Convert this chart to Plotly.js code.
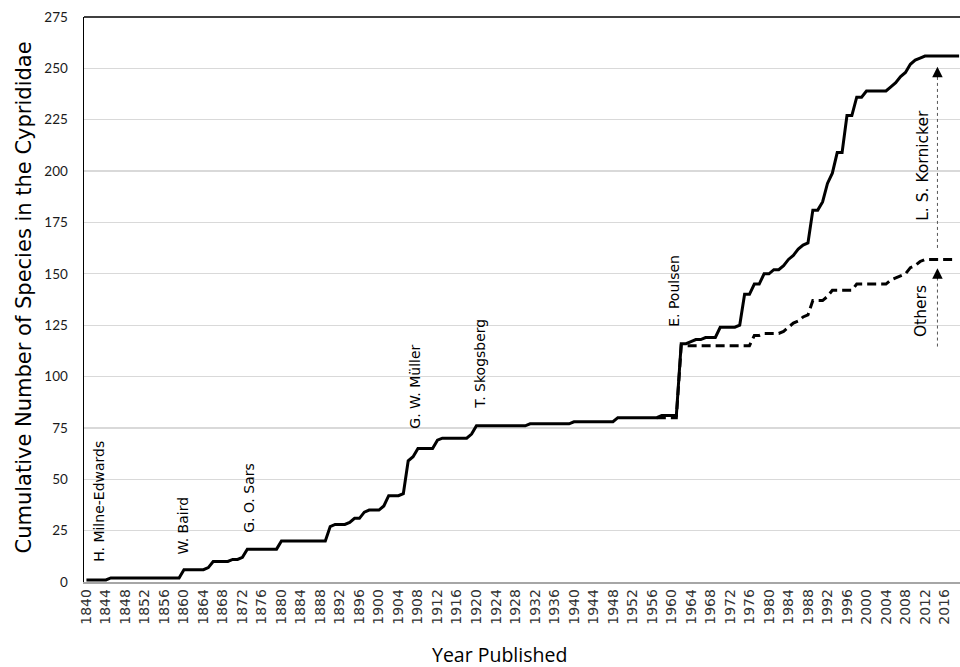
<!DOCTYPE html>
<html>
<head>
<meta charset="utf-8">
<script src="https://cdn.plot.ly/plotly-3.0.1.min.js"></script>
<style>
html,body{margin:0;padding:0;overflow:hidden;background:#fff;width:960px;height:667px}
#chart{width:963px;height:667px}
</style>
</head>
<body>
<div id="chart"></div>
<script>
// Categories: publication years 1840..2019
const firstYear = 1840;
const lastYear = 2019;
const years = [];
for (let y = firstYear; y <= lastYear; y++) years.push(y);

// Cumulative number of species (all authors), one value per year 1840..2019
const totalSpecies = [
  1,1,1,1,1,2,2,2,2,2,            // 1840s
  2,2,2,2,2,2,2,2,2,2,            // 1850s
  6,6,6,6,6,7,10,10,10,10,        // 1860s
  11,11,12,16,16,16,16,16,16,16,  // 1870s
  20,20,20,20,20,20,20,20,20,20,  // 1880s
  27,28,28,28,29,31,31,34,35,35,  // 1890s
  35,37,42,42,42,43,59,61,65,65,  // 1900s
  65,65,69,70,70,70,70,70,70,72,  // 1910s
  76,76,76,76,76,76,76,76,76,76,  // 1920s
  76,77,77,77,77,77,77,77,77,77,  // 1930s
  78,78,78,78,78,78,78,78,78,80,  // 1940s
  80,80,80,80,80,80,80,80,81,81,  // 1950s
  81,81,116,116,117,118,118,119,119,119,        // 1960s
  124,124,124,124,125,140,140,145,145,150,      // 1970s
  150,152,152,154,157,159,162,164,165,181,      // 1980s
  181,185,194,199,209,209,227,227,236,236,      // 1990s
  239,239,239,239,239,241,243,246,248,252,      // 2000s
  254,255,256,256,256,256,256,256,256,256       // 2010s
];

// Cumulative number of species described by authors other than L. S. Kornicker, 1957..2018
const othersFirstYear = 1957;
const othersSpecies = [
  80,80,80,                                     // 1957-1959
  80,80,115,115,115,115,115,115,115,115,        // 1960s
  115,115,115,115,115,115,115,120,120,121,      // 1970s
  121,121,121,122,124,126,127,129,130,137,      // 1980s
  137,137,139,142,142,142,142,142,145,145,      // 1990s
  145,145,145,145,145,147,148,149,150,153,      // 2000s
  154,156,157,157,157,157,157,157,157           // 2010-2018
];
const othersYears = years.slice(othersFirstYear - firstYear, othersFirstYear - firstYear + othersSpecies.length);

// Author labels
const authorNames = ['H. Milne-Edwards','W. Baird','G. O. Sars','G. W. Müller','T. Skogsberg','E. Poulsen'];
const authorX = [1842.6, 1859.9, 1873.2, 1907.4, 1920.7, 1960.6];
const authorY = [39.1, 27.7, 41.1, 95.1, 106.2, 141.9];

const yTicks = [0,25,50,75,100,125,150,175,200,225,250,275];

const traces = [
  {
    x: othersYears, y: othersSpecies, type: 'scatter', mode: 'lines',
    line: {color: '#000', width: 3, dash: '9px,5px'}, hoverinfo: 'skip'
  },
  {
    x: years, y: totalSpecies, type: 'scatter', mode: 'lines',
    line: {color: '#000', width: 3}, hoverinfo: 'skip'
  }
];

const labelFont = {family: 'DejaVu Sans', size: 14, color: '#000'};
const bigLabelFont = {family: 'DejaVu Sans', size: 15.5, color: '#000'};
const annotations = authorNames.map((t, i) => ({
  x: authorX[i], y: authorY[i], xref: 'x', yref: 'y', text: t, textangle: -90,
  showarrow: false, font: labelFont, xanchor: 'center', yanchor: 'middle'
}));

annotations.push(
  {x: 2011.6, y: 202.6, xref: 'x', yref: 'y', text: 'L. S. Kornicker', textangle: -90,
   showarrow: false, font: bigLabelFont, xanchor: 'center', yanchor: 'middle'},
  {x: 2011.2, y: 131.9, xref: 'x', yref: 'y', text: 'Others', textangle: -90,
   showarrow: false, font: bigLabelFont, xanchor: 'center', yanchor: 'middle'},
  {x: 2014.56, y: 250.8, xref: 'x', yref: 'y', text: '', showarrow: true,
   ax: 0, ay: 12, arrowhead: 2, arrowsize: 2.1, arrowwidth: 1, arrowcolor: '#000'},
  {x: 2014.56, y: 152.7, xref: 'x', yref: 'y', text: '', showarrow: true,
   ax: 0, ay: 12, arrowhead: 2, arrowsize: 2.1, arrowwidth: 1, arrowcolor: '#000'},
  {x: -0.0683, y: 0.5035, xref: 'paper', yref: 'paper', text: 'Cumulative Number of Species in the Cyprididae',
   textangle: -90, showarrow: false, xanchor: 'center', yanchor: 'middle',
   font: {family: 'DejaVu Sans', size: 21, color: '#000'}},
  {x: 0.4727, y: -0.1292, xref: 'paper', yref: 'paper', text: 'Year Published',
   showarrow: false, xanchor: 'center', yanchor: 'middle',
   font: {family: 'Open Sans', size: 19.5, color: '#000'}}
);

const shapes = [
  {type: 'line', xref: 'paper', yref: 'paper', x0: 0, x1: 1, y0: 1, y1: 1,
   line: {color: '#000', width: 1.5}},
  {type: 'line', xref: 'x', yref: 'y', x0: 2014.56, x1: 2014.56, y0: 162.6, y1: 246,
   line: {color: '#555', width: 1, dash: 'dot'}},
  {type: 'line', xref: 'x', yref: 'y', x0: 2014.56, x1: 2014.56, y0: 114.6, y1: 148,
   line: {color: '#555', width: 1, dash: 'dot'}}
];

const layout = {
  width: 963, height: 667,
  margin: {l: 84, r: 0, t: 17, b: 85, pad: 0},
  paper_bgcolor: '#fff', plot_bgcolor: '#fff',
  showlegend: false,
  xaxis: {
    range: [1839.5, 2019.8], tick0: 1840, dtick: 4, tickangle: -90,
    showgrid: false, zeroline: false, showline: true, linecolor: '#a6a6a6', linewidth: 1.5,
    ticks: '', tickfont: {family: 'DejaVu Sans', size: 14, color: '#333'}, fixedrange: true
  },
  yaxis: {
    range: [0, 275], tickmode: 'array', tickvals: yTicks, ticktext: yTicks.map(String),
    showgrid: true, gridcolor: '#d9d9d9', gridwidth: 1.3, zeroline: false,
    showline: true, linecolor: '#000', linewidth: 1.5, mirror: true,
    ticks: '', ticklabelstandoff: 12, tickfont: {family: 'Lato', size: 13.5, color: '#1a1a1a'}, fixedrange: true
  },
  annotations: annotations,
  shapes: shapes
};

Plotly.newPlot('chart', traces, layout, {displayModeBar: false, staticPlot: true});
</script>
</body>
</html>
